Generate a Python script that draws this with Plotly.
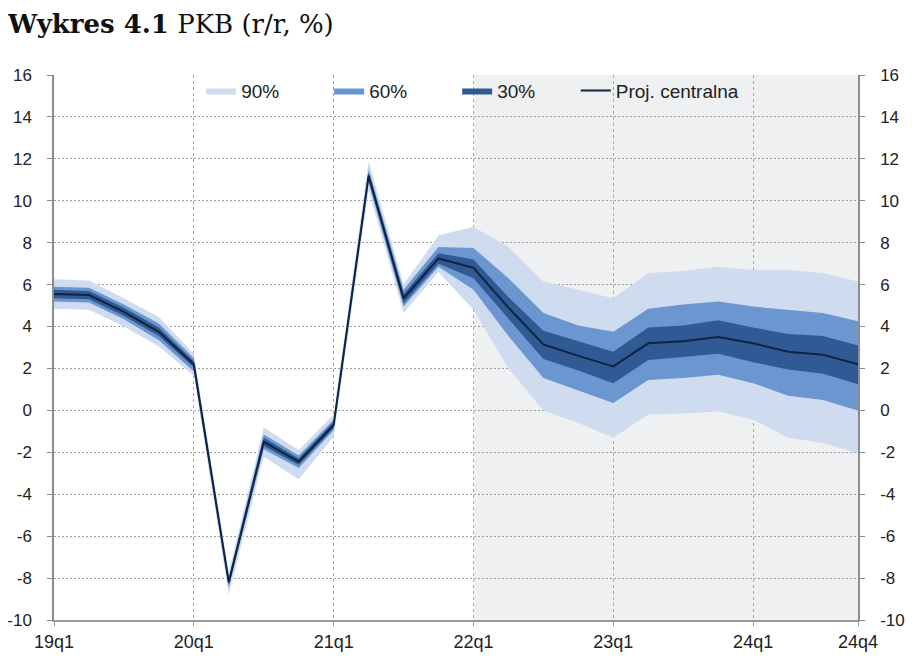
import plotly.graph_objects as go

# Kwartały 19q1..24q4
quarters = [f"{y}q{q}" for y in range(19, 25) for q in range(1, 5)]
tick_labels = ["19q1", "20q1", "21q1", "22q1", "23q1", "24q1", "24q4"]
y_ticks = list(range(-10, 17, 2))
projection_start = "22q1"

central = [5.55, 5.5, 4.7, 3.75, 2.2, -8.2, -1.5, -2.45, -0.7, 11.2, 5.35, 7.25,
           6.8, 4.9, 3.15, 2.6, 2.1, 3.2, 3.3, 3.5, 3.2, 2.8, 2.65, 2.2]

upper_90 = [6.25, 6.2, 5.35, 4.45, 2.7, -7.7, -0.8, -1.9, -0.2, 11.9, 6.0, 8.35,
            8.75, 7.8, 6.15, 5.75, 5.35, 6.55, 6.65, 6.85, 6.7, 6.7, 6.55, 6.15]
lower_90 = [4.85, 4.8, 4.0, 3.05, 1.65, -8.8, -2.2, -3.3, -1.25, 10.5, 4.65, 6.6,
            4.8, 2.0, 0.0, -0.6, -1.3, -0.2, -0.15, -0.05, -0.45, -1.3, -1.55, -2.05]

upper_60 = [5.9, 5.85, 5.05, 4.15, 2.5, -7.95, -1.15, -2.15, -0.45, 11.5, 5.75, 7.8,
            7.75, 6.3, 4.65, 4.05, 3.75, 4.85, 5.05, 5.2, 4.95, 4.8, 4.65, 4.25]
lower_60 = [5.2, 5.15, 4.35, 3.35, 1.85, -8.45, -1.85, -2.75, -0.95, 10.85, 4.95, 6.85,
            5.75, 3.55, 1.55, 0.95, 0.35, 1.45, 1.55, 1.7, 1.3, 0.7, 0.5, 0.0]

upper_30 = [5.75, 5.7, 4.9, 3.95, 2.35, -8.05, -1.3, -2.3, -0.55, 11.35, 5.55, 7.5,
            7.2, 5.4, 3.8, 3.3, 2.8, 3.95, 4.05, 4.3, 3.95, 3.65, 3.55, 3.1]
lower_30 = [5.35, 5.3, 4.5, 3.55, 2.05, -8.35, -1.7, -2.6, -0.85, 11.0, 5.1, 7.0,
            6.3, 4.35, 2.45, 1.9, 1.3, 2.4, 2.55, 2.7, 2.3, 1.95, 1.75, 1.25]

bands = [
    ("90%", upper_90, lower_90, "#cfdbee"),
    ("60%", upper_60, lower_60, "#6b96cf"),
    ("30%", upper_30, lower_30, "#2f5a94"),
]

fig = go.Figure()

for name, up, lo, color in bands:
    fig.add_trace(go.Scatter(
        x=quarters + quarters[::-1], y=up + lo[::-1],
        fill="toself", fillcolor=color, mode="lines",
        line=dict(width=0, color=color), name=name, hoverinfo="skip"))

fig.add_trace(go.Scatter(x=quarters, y=central, mode="lines",
                         line=dict(color="#10233f", width=2),
                         name="Proj. centralna", legend="legend2"))

# niewidoczny ślad dla prawej osi
fig.add_trace(go.Scatter(x=quarters, y=central, yaxis="y2", mode="lines",
                         line=dict(width=0), opacity=0, showlegend=False,
                         hoverinfo="skip"))

# obszar projekcji
fig.add_shape(type="rect", xref="x", yref="paper",
              x0=quarters.index(projection_start), x1=len(quarters) - 1,
              y0=0, y1=1, fillcolor="#eff0f2", line_width=0, layer="below")

yaxis_common = dict(range=[-10, 16], tickvals=y_ticks,
                    ticktext=[str(v) for v in y_ticks],
                    tickfont=dict(family="Liberation Sans, Arial", size=17, color="#222"),
                    showline=True, linecolor="#8c8c8c", linewidth=1.5,
                    ticks="outside", ticklen=5, tickcolor="#8c8c8c",
                    ticklabelstandoff=12, zeroline=False, automargin=False)
legend_font = dict(family="Liberation Sans, Arial", size=19, color="#222")

# strona ma 8px marginesu body, stąd 912x658
fig.update_layout(
    width=912, height=658,
    margin=dict(l=46, r=62, t=67, b=46, autoexpand=False),
    plot_bgcolor="white", paper_bgcolor="white",
    title=dict(text="<b>Wykres 4.1</b> PKB (r/r, %)",
               font=dict(family="DejaVu Serif, Cambria", size=26, color="#111"),
               x=0, xanchor="left", xref="container",
               y=0.976, yanchor="middle", yref="container"),
    xaxis=dict(type="category", range=[0, len(quarters) - 1],
               tickvals=tick_labels, ticktext=tick_labels,
               tickfont=dict(family="Liberation Sans, Arial", size=18, color="#222"),
               showgrid=True, gridcolor="#a8a8a8", griddash="3px,3px", gridwidth=1,
               showline=True, linecolor="#9a9a9a", linewidth=2,
               ticks="outside", ticklen=4, tickcolor="#9a9a9a", automargin=False),
    yaxis=dict(**yaxis_common, showgrid=True, gridcolor="#9c9c9c",
               griddash="2px,2px", gridwidth=1),
    yaxis2=dict(**yaxis_common, overlaying="y", side="right", showgrid=False),
    legend=dict(orientation="h", x=0.183, xanchor="left", y=1.006, yanchor="top",
                font=legend_font, bgcolor="rgba(0,0,0,0)",
                entrywidth=83, entrywidthmode="pixels",
                itemwidth=30, traceorder="normal"),
    legend2=dict(orientation="h", x=0.649, xanchor="left", y=1.006, yanchor="top",
                 font=legend_font, bgcolor="rgba(0,0,0,0)", itemwidth=30),
    showlegend=True,
)

fig.write_html("out.html")
